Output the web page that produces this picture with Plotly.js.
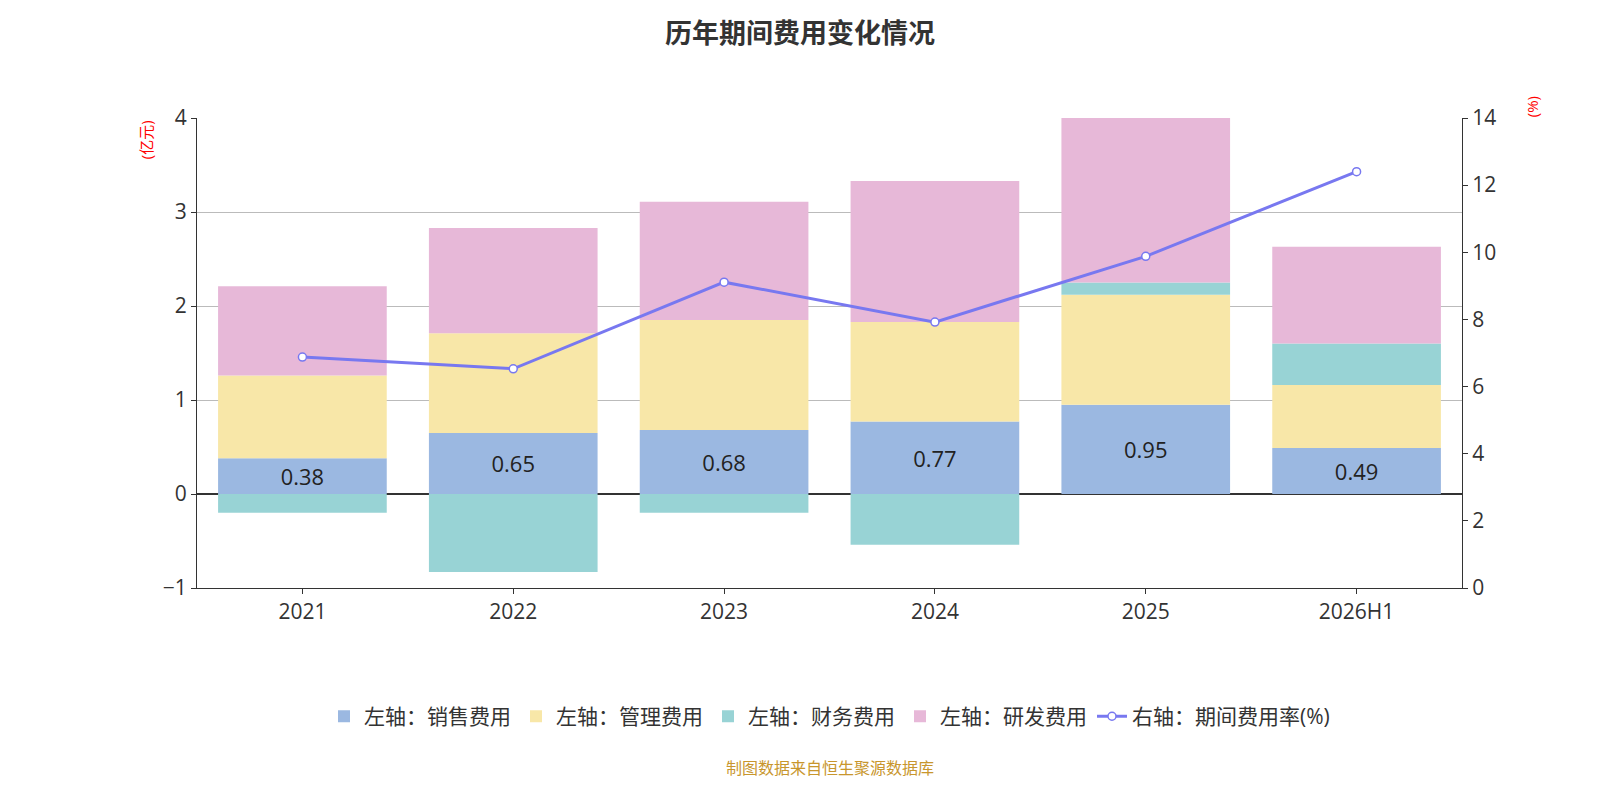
<!DOCTYPE html>
<html>
<head>
<meta charset="utf-8">
<script src="https://cdn.plot.ly/plotly-3.0.1.min.js"></script>
<style>body{margin:0;background:#fff}#chart{width:1600px;height:800px}</style>
</head>
<body>
<div id="chart"></div>
<script>
// values
const years = ['2021', '2022', '2023', '2024', '2025', '2026H1'];
const sales = [0.38, 0.65, 0.68, 0.77, 0.95, 0.49];
const admin = [0.88, 1.06, 1.17, 1.06, 1.17, 0.67];
const finance = [-0.2, -0.83, -0.2, -0.54, 0.13, 0.44];
const rnd = [0.95, 1.12, 1.26, 1.50, 1.75, 1.03];
const rate = [6.88, 6.53, 9.11, 7.92, 9.88, 12.4];

const font = 'Open Sans, Noto Sans CJK SC, sans-serif';

function bar(name, y, color, labels) {
    return {
        type: 'bar', name: name, x: years, y: y,
        marker: {color: color}, width: 0.8,
        text: labels ? y.map(v => v.toFixed(2)) : undefined,
        textposition: labels ? 'inside' : 'none',
        insidetextanchor: 'middle',
        textfont: {size: 22, color: '#222'},
        hoverinfo: 'y'
    };
}

const data = [
    bar('左轴：销售费用', sales, '#9bb8e1', true),
    bar('左轴：管理费用', admin, '#f8e7a8', false),
    bar('左轴：财务费用', finance, '#98d3d5', false),
    bar('左轴：研发费用', rnd, '#e7b8d8', false),
    {
        type: 'scatter', mode: 'lines+markers', name: '右轴：期间费用率(%)',
        x: years, y: rate, yaxis: 'y2',
        line: {color: '#7878f0', width: 3},
        marker: {size: 8, color: '#fff', line: {color: '#7878f0', width: 1.5}}
    }
];

const layout = {
    barmode: 'relative',
    font: {family: font, size: 20, color: '#333'},
    title: {text: '<b>历年期间费用变化情况</b>', x: 0.5, y: 0.97, font: {size: 27, color: '#333'}},
    margin: {l: 197, r: 138, t: 118, b: 212, autoexpand: false},
    showlegend: true,
    legend: {orientation: 'h', x: 0.5, xanchor: 'center', y: -0.23, font: {size: 21}},
    xaxis: {type: 'category', showline: true, linecolor: '#333', ticks: 'outside', tickcolor: '#333',
        tickfont: {size: 21}, zeroline: false, automargin: false},
    yaxis: {range: [-1, 4], dtick: 1, showgrid: true, gridcolor: '#bbb',
        zeroline: true, zerolinecolor: '#333', zerolinewidth: 1.5,
        showline: true, linecolor: '#333', ticks: 'outside', tickcolor: '#333',
        tickfont: {size: 21}, automargin: false},
    yaxis2: {range: [0, 14], dtick: 2, overlaying: 'y', side: 'right',
        showgrid: false, zeroline: false, showline: true, linecolor: '#333',
        ticks: 'outside', tickcolor: '#333', tickfont: {size: 21}, automargin: false},
    annotations: [
        {text: '(亿元)', xref: 'paper', yref: 'paper', x: -0.05, y: 1.0, yanchor: 'top',
            textangle: -90, showarrow: false, font: {size: 15, color: 'red'}},
        {text: '(%)', xref: 'paper', yref: 'paper', x: 1.065, y: 1.05, yanchor: 'top',
            textangle: -90, showarrow: false, font: {size: 15, color: 'red'}},
        {text: '制图数据来自恒生聚源数据库', xref: 'paper', yref: 'paper', x: 0.5, y: -0.41,
            showarrow: false, font: {size: 16, color: '#c8962d'}}
    ],
    plot_bgcolor: '#fff', paper_bgcolor: '#fff'
};

Plotly.newPlot('chart', data, layout, {displayModeBar: false});
</script>
</body>
</html>
